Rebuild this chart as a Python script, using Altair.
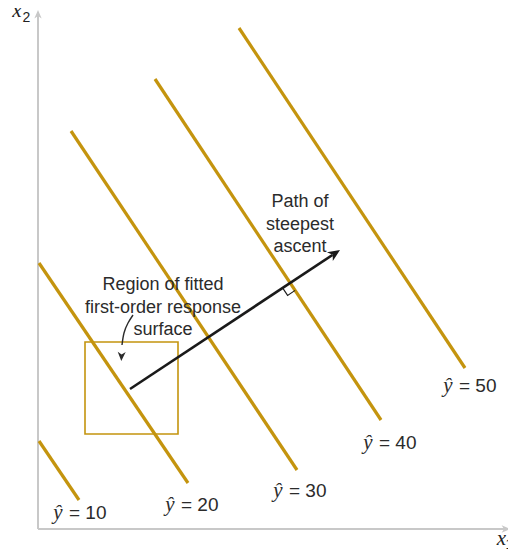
import math
import altair as alt
import pandas as pd

# ---------------- data (plot units: x1 across, x2 up) ----------------
levels = [10, 20, 30, 40, 50]
x1_start = [0.1, 0.1, 3.3, 11.7, 20.1]
x2_start = [8.8, 26.6, 39.8, 45.0, 50.1]
x1_end = [4.1, 15.0, 25.9, 34.3, 42.7]
x2_end = [2.9, 4.6, 5.9, 10.9, 16.1]

label_x1 = [2.0, 13.2, 24.0, 33.0, 41.0]
label_x2 = [1.0, 1.8, 3.2, 8.0, 13.7]

box_x1 = [4.7, 14.0]
box_x2 = [9.5, 18.7]

path_x1 = [9.2, 30.2]
path_x2 = [14.0, 27.9]

corner_x1 = [24.46, 24.96, 25.71]
corner_x2 = [24.11, 23.36, 23.86]

curve_x1 = [9.5, 9.0, 8.6, 8.4]
curve_x2 = [21.4, 20.6, 19.6, 18.4]
curve_tip = [8.33, 16.8]

region_lines = ["Region of fitted", "first-order response", "surface"]
region_x1 = 12.5
region_x2 = [23.9, 21.65, 19.4]

path_lines = ["Path of", "steepest", "ascent"]
path_text_x1 = 26.2
path_text_x2 = [32.2, 29.95, 27.7]

axis_x_end = 47.2
axis_y_end = 51.9

GOLD = "#C4940E"
TEXT = "#2b2b2b"
AXIS = "#c8c8c8"
SANS = "Liberation Sans"
SERIF = "Liberation Serif"
ARROW = "M0,0 L0.7,1.6 L0,1.15 L-0.7,1.6 Z"

XS = alt.Scale(domain=[-3.0, 47.0], nice=False, zero=False)
YS = alt.Scale(domain=[-2.0, 52.1], nice=False, zero=False)


def X(f="x"):
    return alt.X(f"{f}:Q", scale=XS, axis=None)


def Y(f="y"):
    return alt.Y(f"{f}:Q", scale=YS, axis=None)


# ---------------- axes ----------------
axes_df = pd.DataFrame({"x": [0, 0], "y": [0, 0], "xe": [0, axis_x_end - 0.3], "ye": [axis_y_end - 0.3, 0]})
axes = alt.Chart(axes_df).mark_rule(color=AXIS, strokeWidth=2).encode(
    x=X(), y=Y(), x2=alt.X2("xe"), y2=alt.Y2("ye"))
axis_heads_df = pd.DataFrame({"x": [0, axis_x_end], "y": [axis_y_end, 0], "a": [0, 90]})
axis_heads = alt.Chart(axis_heads_df).mark_point(
    shape=ARROW, filled=True, size=110, color=AXIS, opacity=1, strokeWidth=0
).encode(x=X(), y=Y(), angle=alt.Angle("a:Q", scale=None))

# ---------------- contours ----------------
cont_df = pd.DataFrame({"level": levels, "x": x1_start, "y": x2_start, "xe": x1_end, "ye": x2_end})
contours = alt.Chart(cont_df).mark_rule(color=GOLD, strokeWidth=3.2).encode(
    x=X(), y=Y(), x2=alt.X2("xe"), y2=alt.Y2("ye"))

# region box
box_df = pd.DataFrame({"x": [box_x1[0]], "xe": [box_x1[1]], "y": [box_x2[0]], "ye": [box_x2[1]]})
box = alt.Chart(box_df).mark_rect(fillOpacity=0, stroke=GOLD, strokeWidth=1.6).encode(
    x=X(), x2=alt.X2("xe"), y=Y(), y2=alt.Y2("ye"))

# path of steepest ascent
dx = path_x1[1] - path_x1[0]
dy = path_x2[1] - path_x2[0]
L = math.hypot(dx, dy)
ux, uy = dx / L, dy / L
path_df = pd.DataFrame({"x": [path_x1[0]], "y": [path_x2[0]],
                        "xe": [path_x1[1] - 0.9 * ux], "ye": [path_x2[1] - 0.9 * uy]})
path_line = alt.Chart(path_df).mark_rule(color="#1a1a1a", strokeWidth=2.6).encode(
    x=X(), y=Y(), x2=alt.X2("xe"), y2=alt.Y2("ye"))
ang = math.degrees(math.atan2(dx, dy)) % 360
head_df = pd.DataFrame({"x": [path_x1[1]], "y": [path_x2[1]], "a": [ang]})
path_head = alt.Chart(head_df).mark_point(
    shape=ARROW, filled=True, size=230, color="#1a1a1a", opacity=1, strokeWidth=0
).encode(x=X(), y=Y(), angle=alt.Angle("a:Q", scale=None))

# right-angle marker
corner_df = pd.DataFrame({"x": corner_x1, "y": corner_x2, "o": [0, 1, 2]})
corner = alt.Chart(corner_df).mark_line(color="#1a1a1a", strokeWidth=1.1).encode(
    x=X(), y=Y(), order="o:O")

# curved pointer
curve_df = pd.DataFrame({"x": curve_x1, "y": curve_x2, "o": list(range(len(curve_x1)))})
curve = alt.Chart(curve_df).mark_line(color=TEXT, strokeWidth=1.4, interpolate="natural").encode(
    x=X(), y=Y(), order="o:O")
cang = math.degrees(math.atan2(curve_tip[0] - curve_x1[-1], curve_tip[1] - curve_x2[-1])) % 360
chead_df = pd.DataFrame({"x": [curve_tip[0]], "y": [curve_tip[1]], "a": [cang]})
chead = alt.Chart(chead_df).mark_point(
    shape=ARROW, filled=True, size=130, color=TEXT, opacity=1, strokeWidth=0
).encode(x=X(), y=Y(), angle=alt.Angle("a:Q", scale=None))

# ---------------- texts ----------------
lab_df = pd.DataFrame({"x": label_x1, "y": label_x2,
                       "hat": ["\u0177"] * 5, "t": [f"= {v}" for v in levels]})
hats = alt.Chart(lab_df).mark_text(font=SERIF, fontStyle="italic", fontSize=21, color=TEXT,
                                   align="center", baseline="alphabetic").encode(
    x=X(), y=Y(), text="hat:N")
eqs = alt.Chart(lab_df).mark_text(font=SANS, fontSize=19, color=TEXT, align="left",
                                  baseline="alphabetic", dx=11).encode(x=X(), y=Y(), text="t:N")

reg_df = pd.DataFrame({"x": [region_x1] * 3, "y": region_x2, "t": region_lines})
reg_text = alt.Chart(reg_df).mark_text(font=SANS, fontSize=18, color=TEXT, align="center",
                                       baseline="alphabetic").encode(x=X(), y=Y(), text="t:N")
pth_df = pd.DataFrame({"x": [path_text_x1] * 3, "y": path_text_x2, "t": path_lines})
pth_text = alt.Chart(pth_df).mark_text(font=SANS, fontSize=18, color=TEXT, align="center",
                                       baseline="alphabetic").encode(x=X(), y=Y(), text="t:N")

# axis titles: italic x with subscript
ax_df = pd.DataFrame({"x": [-2.1, 46.35], "y": [51.2, -1.6], "t": ["x", "x"]})
ax_txt = alt.Chart(ax_df).mark_text(font=SERIF, fontStyle="italic", fontSize=21, color="#222",
                                    align="center", baseline="alphabetic").encode(x=X(), y=Y(), text="t:N")
sub_df = pd.DataFrame({"x": [-1.15, 47.15], "y": [50.7, -1.95], "t": ["2", "1"]})
sub_txt = alt.Chart(sub_df).mark_text(font=SANS, fontSize=14, color="#222",
                                      align="center", baseline="alphabetic").encode(x=X(), y=Y(), text="t:N")

chart = alt.layer(
    axes, axis_heads, box, contours, path_line, path_head, corner, curve, chead,
    hats, eqs, reg_text, pth_text, ax_txt, sub_txt
).properties(
    width=500, height=541, autosize=alt.AutoSizeParams(type="none"), padding=0,
    background="white"
).configure_view(stroke=None, clip=False)

chart.save("out.html", embed_options={"renderer": "svg", "actions": False})
